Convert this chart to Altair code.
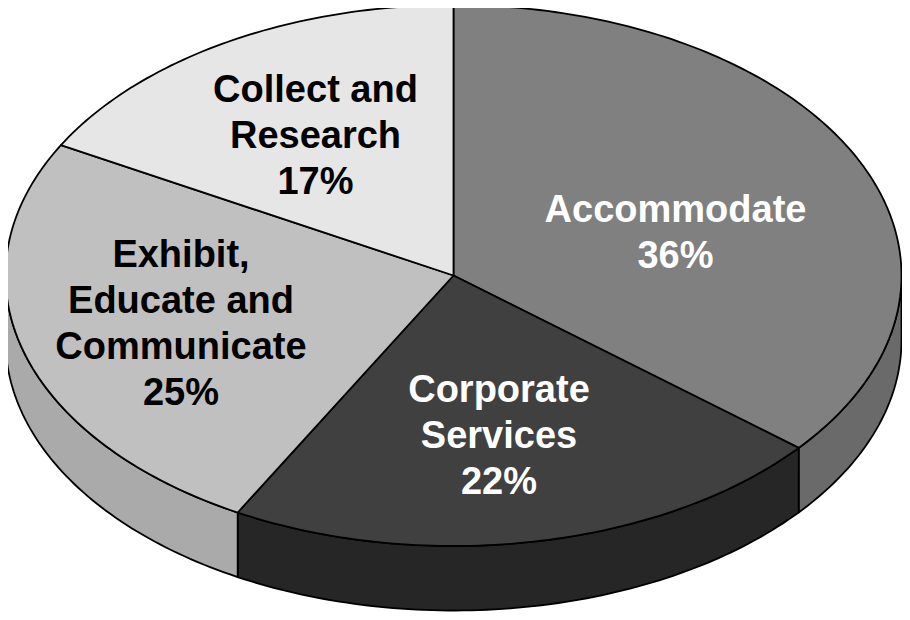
import altair as alt
import numpy as np
import pandas as pd

# ---- data ----
categories = ["Accommodate", "Corporate Services", "Exhibit, Educate and Communicate", "Collect and Research"]
label_lines = ["Accommodate", "Corporate\nServices", "Exhibit,\nEducate and\nCommunicate", "Collect and\nResearch"]
shares = [36, 22, 25, 17]

# ---- styles ----
top_colors = ["#808080", "#404040", "#c0c0c0", "#e6e6e6"]
side_colors = ["#6a6a6a", "#262626", "#aaaaaa", "#d0d0d0"]
text_colors = ["#ffffff", "#ffffff", "#000000", "#000000"]

# ---- layout (image pixel space) ----
CX, CY, RX, RY, DEPTH = 453.5, 275.5, 448.0, 270.5, 64.5
label_anchor = [(675.5, 222), (499, 402), (181, 267), (315.5, 102)]


def pt(theta_deg, dy=0.0):
    t = np.radians(theta_deg)
    return [float(CX + RX * np.sin(t)), float(CY - RY * np.cos(t) + dy)]


def arc(a, b, dy=0.0):
    n = max(int(abs(b - a)), 2)
    return [pt(t, dy) for t in np.linspace(a, b, n + 1)]


total = float(sum(shares))
bounds = []
acc = 0.0
for s in shares:
    a = acc / total * 360.0
    acc += s
    b = acc / total * 360.0
    bounds.append((a, b))

sides, tops = [], []
for i, (a, b) in enumerate(bounds):
    s, e = max(a, 90.0), min(b, 270.0)
    if s < e:
        ring = arc(s, e) + arc(e, s, DEPTH)
        ring.append(ring[0])
        sides.append({"type": "Feature",
                      "properties": {"name": categories[i] + " side", "color": side_colors[i]},
                      "geometry": {"type": "Polygon", "coordinates": [ring]}})
    ring = [[CX, CY]] + arc(a, b) + [[CX, CY]]
    tops.append({"type": "Feature",
                 "properties": {"name": categories[i], "color": top_colors[i]},
                 "geometry": {"type": "Polygon", "coordinates": [ring]}})

fc = {"type": "FeatureCollection", "features": sides + tops}

shapes = alt.Chart(
    alt.InlineData(values=fc, format=alt.DataFormat(property="features", type="json"))
).mark_geoshape(stroke="black", strokeWidth=1.8, strokeJoin="round").encode(
    fill=alt.Fill("properties.color:N", scale=None)
)

labels_df = pd.DataFrame({
    "x": [p[0] for p in label_anchor],
    "y": [p[1] for p in label_anchor],
    "label": [f"{t}\n{v}%" for t, v in zip(label_lines, shares)],
    "color": text_colors,
})

labels = alt.Chart(labels_df).mark_text(
    font="Liberation Sans", fontWeight="bold", fontSize=38, lineHeight=46,
    align="center", baseline="alphabetic", lineBreak="\n"
).encode(
    longitude="x:Q", latitude="y:Q", text="label:N",
    color=alt.Color("color:N", scale=None)
)

chart = alt.layer(shapes, labels).project(
    type="identity", scale=1, translate=[-8, -8]
).properties(
    width=894, height=604, padding=0, autosize=alt.AutoSizeParams(type="none")
).configure_view(stroke=None)

chart.save("out.html", embed_options={"renderer": "svg", "actions": False})
